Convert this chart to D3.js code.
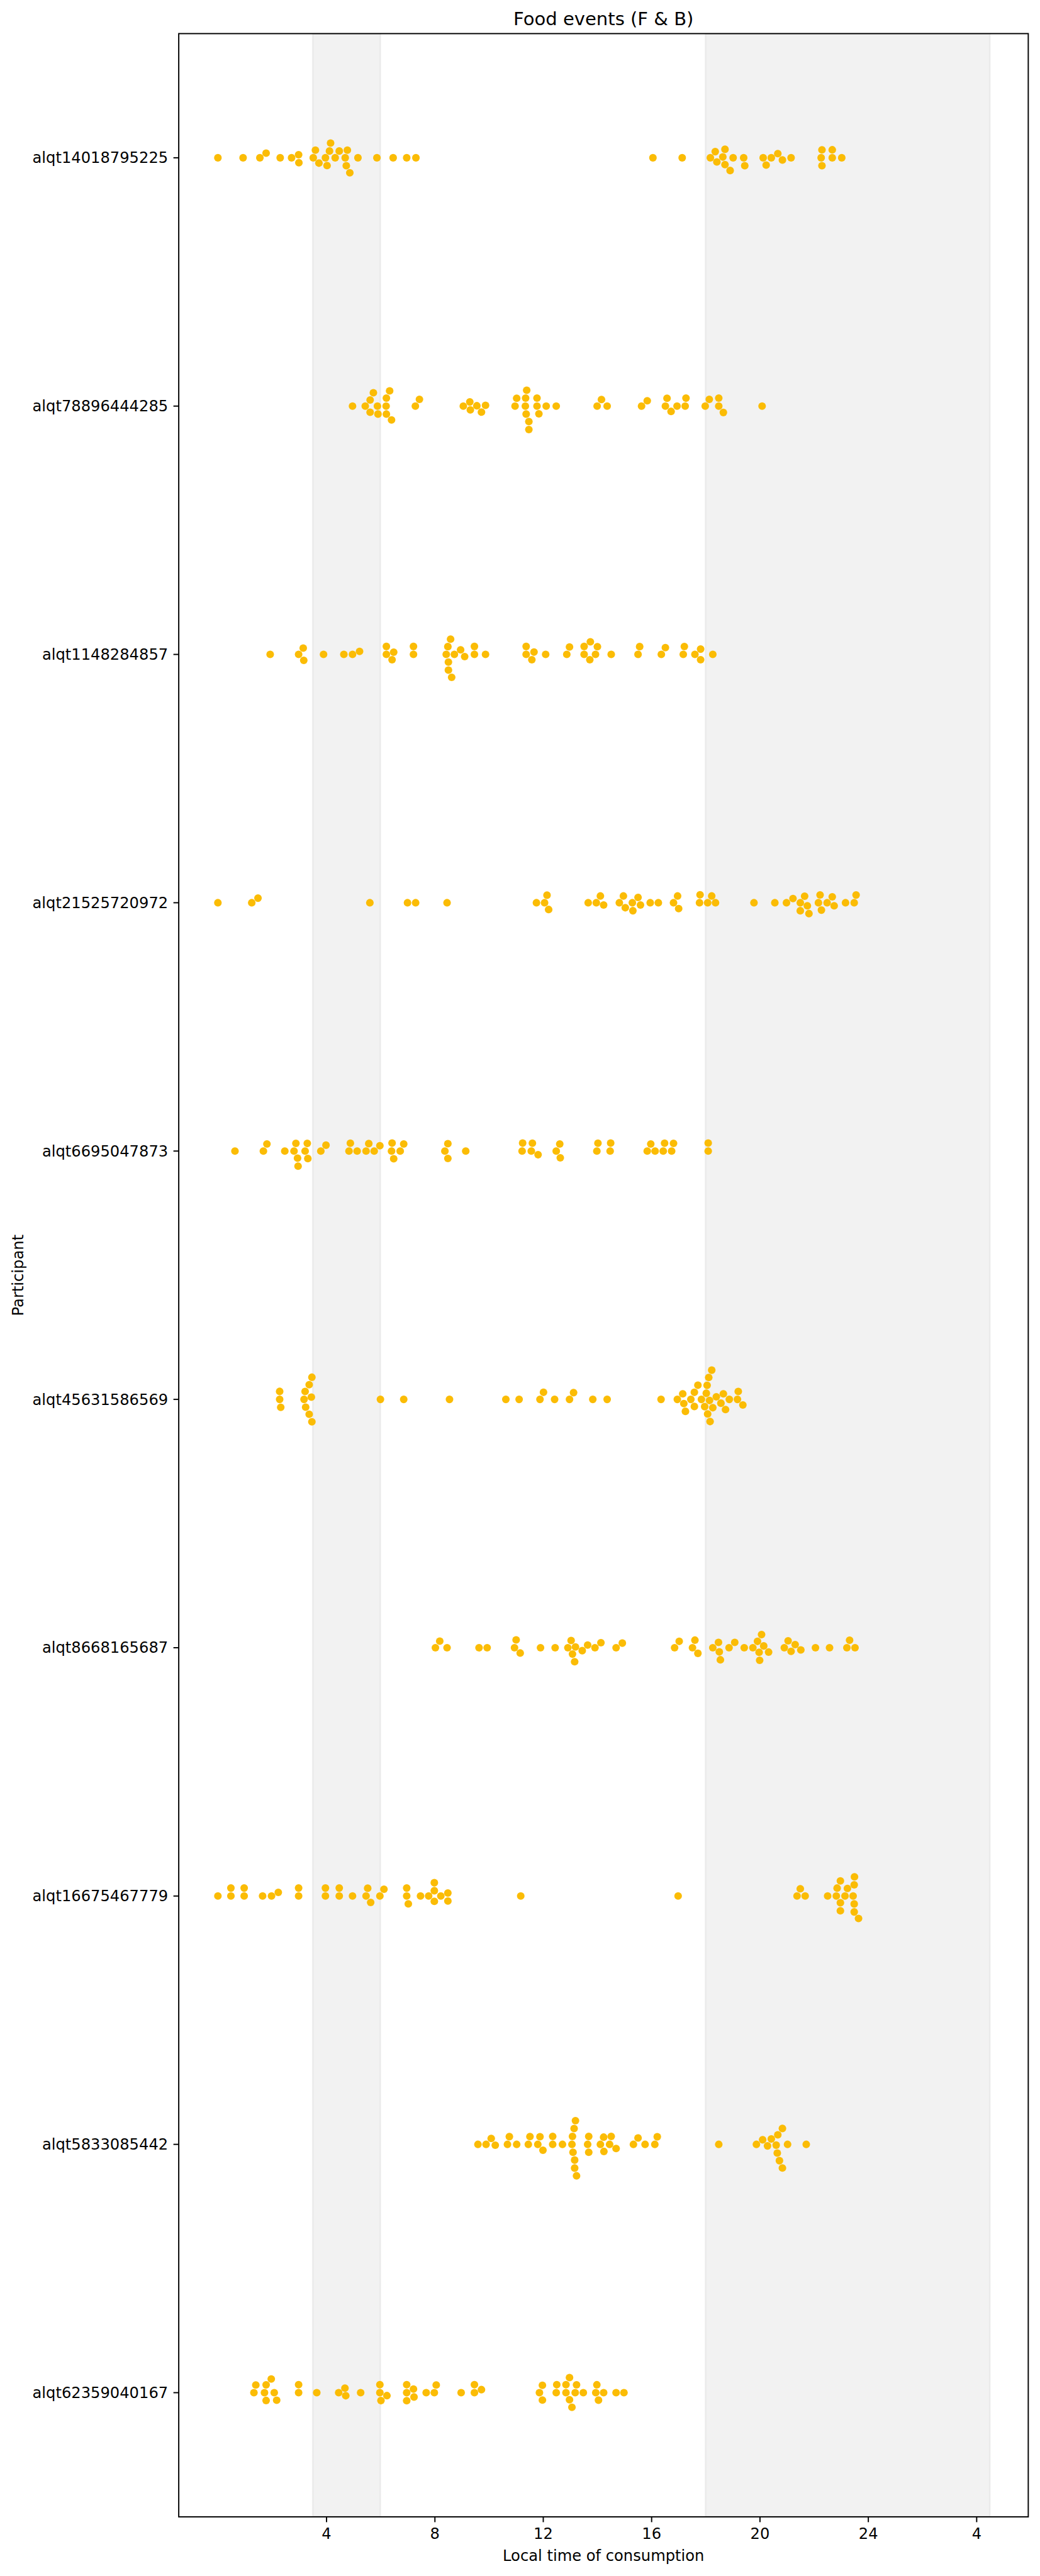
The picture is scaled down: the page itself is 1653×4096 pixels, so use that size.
<!DOCTYPE html>
<html>
<head>
<meta charset="utf-8">
<script src="https://cdn.jsdelivr.net/npm/d3@7"></script>
<style>
  html, body { margin: 0; padding: 0; background: #ffffff; }
  svg { display: block; }
</style>
</head>
<body>
<script>
// ---------------- DATA ----------------
const participants = [
  "alqt14018795225", "alqt78896444285", "alqt1148284857", "alqt21525720972",
  "alqt6695047873", "alqt45631586569", "alqt8668165687", "alqt16675467779",
  "alqt5833085442", "alqt62359040167"
];

// local time of consumption (hours; values past 24 wrap to next day)
const t_alqt14018795225 = [0.00, 0.93, 1.55, 1.78, 2.30, 2.72, 2.98, 2.99, 3.52, 3.60, 3.73, 3.97, 4.03, 4.12, 4.16, 4.33, 4.48, 4.70, 4.78, 4.74, 4.87, 5.17, 5.87, 6.47, 6.97, 7.31, 16.06, 17.14, 18.18, 18.36, 18.42, 18.64, 18.72, 18.72, 18.91, 19.02, 19.41, 19.45, 20.13, 20.24, 20.43, 20.67, 20.84, 21.16, 22.27, 22.30, 22.30, 22.68, 22.68, 23.03];
const t_alqt78896444285 = [4.97, 5.44, 5.62, 5.74, 5.62, 5.89, 5.91, 6.22, 6.34, 6.21, 6.22, 6.41, 7.29, 7.44, 9.06, 9.30, 9.32, 9.56, 9.73, 9.88, 10.97, 11.03, 11.35, 11.36, 11.40, 11.38, 11.48, 11.48, 11.78, 11.78, 11.85, 12.12, 12.49, 14.00, 14.16, 14.37, 15.64, 15.85, 16.52, 16.58, 16.73, 16.95, 17.25, 17.28, 17.99, 18.14, 18.49, 18.49, 18.66, 20.09];
const t_alqt1148284857 = [1.93, 2.98, 3.15, 3.17, 3.90, 4.65, 4.97, 5.23, 6.22, 6.22, 6.49, 6.43, 7.22, 7.22, 8.43, 8.49, 8.59, 8.51, 8.51, 8.63, 8.73, 8.96, 9.11, 9.47, 9.47, 9.88, 11.38, 11.38, 11.67, 11.59, 12.10, 12.88, 12.98, 13.52, 13.52, 13.75, 13.73, 13.94, 14.01, 14.52, 15.51, 15.57, 16.37, 16.52, 17.18, 17.22, 17.61, 17.82, 17.82, 18.27];
const t_alqt21525720972 = [0.00, 1.25, 1.48, 5.61, 7.00, 7.30, 8.46, 11.76, 12.15, 12.06, 12.21, 13.67, 13.97, 14.12, 14.24, 14.82, 14.97, 15.04, 15.30, 15.32, 15.51, 15.60, 15.96, 16.26, 16.82, 16.97, 17.01, 17.78, 17.80, 18.08, 18.23, 18.37, 19.79, 20.56, 20.99, 21.23, 21.50, 21.50, 21.66, 21.76, 21.82, 22.17, 22.23, 22.28, 22.49, 22.68, 22.75, 23.17, 23.49, 23.56];
const t_alqt6695047873 = [0.63, 1.68, 1.81, 2.47, 2.81, 2.88, 2.94, 2.96, 3.22, 3.30, 3.32, 3.80, 3.99, 4.84, 4.89, 5.14, 5.47, 5.57, 5.77, 5.98, 6.41, 6.43, 6.49, 6.73, 6.86, 8.38, 8.49, 8.49, 9.15, 11.23, 11.25, 11.57, 11.61, 11.82, 12.49, 12.62, 12.64, 13.99, 14.03, 14.48, 14.50, 15.85, 15.98, 16.14, 16.44, 16.49, 16.75, 16.82, 18.10, 18.10];
const t_alqt45631586569 = [2.28, 2.28, 2.32, 3.18, 3.22, 3.45, 3.24, 3.37, 3.47, 3.37, 3.47, 6.00, 6.86, 8.55, 10.63, 11.12, 11.89, 12.02, 12.43, 12.98, 13.13, 13.84, 14.37, 16.36, 16.96, 17.16, 17.20, 17.26, 17.46, 17.59, 17.59, 17.72, 17.85, 18.03, 18.06, 18.12, 18.23, 18.15, 17.97, 18.08, 18.17, 18.27, 18.40, 18.57, 18.66, 18.74, 18.88, 19.18, 19.21, 19.38];
const t_alqt8668165687 = [8.03, 8.19, 8.46, 9.64, 9.94, 10.95, 11.01, 11.16, 11.91, 12.45, 12.92, 13.04, 13.20, 13.09, 13.17, 13.45, 13.65, 13.92, 14.14, 14.70, 14.93, 16.86, 17.03, 17.52, 17.61, 17.72, 18.27, 18.48, 18.51, 18.55, 18.87, 19.08, 19.43, 19.75, 19.92, 20.07, 19.98, 20.00, 20.15, 20.33, 20.91, 21.05, 21.16, 21.31, 21.52, 22.06, 22.58, 23.22, 23.32, 23.52];
const t_alqt16675467779 = [0.00, 0.48, 0.48, 0.97, 0.97, 1.65, 1.98, 2.23, 2.98, 2.98, 3.97, 3.97, 4.48, 4.48, 4.97, 5.47, 5.53, 5.64, 5.98, 6.13, 6.97, 6.97, 7.03, 7.48, 7.78, 7.99, 7.99, 8.23, 7.99, 8.49, 8.49, 11.18, 16.99, 21.38, 21.50, 21.68, 22.51, 22.83, 22.86, 22.98, 22.98, 22.98, 23.15, 23.24, 23.49, 23.50, 23.45, 23.49, 23.49, 23.65];
const t_alqt5833085442 = [9.60, 9.90, 10.09, 10.24, 10.69, 10.76, 11.03, 11.46, 11.52, 11.81, 11.89, 12.00, 12.36, 12.36, 12.72, 13.07, 13.09, 13.15, 13.20, 13.11, 13.17, 13.17, 13.24, 13.65, 13.69, 13.69, 14.12, 14.24, 14.25, 14.46, 14.52, 14.70, 15.34, 15.51, 15.77, 16.13, 16.22, 18.49, 19.88, 20.11, 20.29, 20.43, 20.61, 20.67, 20.65, 20.73, 20.84, 20.84, 21.03, 21.72];
const t_alqt62359040167 = [1.33, 1.40, 1.72, 1.78, 1.97, 1.78, 2.08, 2.17, 2.98, 2.98, 3.65, 4.46, 4.69, 4.72, 5.27, 5.98, 5.98, 6.02, 6.24, 6.97, 6.97, 6.97, 7.22, 7.24, 7.69, 7.99, 8.06, 8.98, 9.47, 9.47, 9.73, 11.87, 11.98, 11.98, 12.49, 12.51, 12.85, 12.85, 12.98, 12.98, 13.07, 13.19, 13.24, 13.49, 13.95, 13.99, 14.05, 14.24, 14.70, 14.99];

const tickValues = [4, 8, 12, 16, 20, 24, 28];
const tickLabels = ["4", "8", "12", "16", "20", "24", "4"];
const shadedSpans = [[3.5, 6], [18, 28.5]];
const titleText = "Food events (F & B)";
const xLabelText = "Local time of consumption";
const yLabelText = "Participant";

const eventsByParticipant = [
  t_alqt14018795225, t_alqt78896444285, t_alqt1148284857, t_alqt21525720972,
  t_alqt6695047873, t_alqt45631586569, t_alqt8668165687, t_alqt16675467779,
  t_alqt5833085442, t_alqt62359040167
];

// ---------------- LAYOUT ----------------
const S = 0.581;                 // reference -> window scale
const W = 1653, H = 4096;
const PX = 300 / 72 * S;         // one typographic point in output px
const margin = { left: 489 * S, right: 2813 * S, top: 92 * S, bottom: 6888 * S };
const fontFamily = "'DejaVu Sans', 'Liberation Sans', sans-serif";
const tickFont = 10 * PX;
const titleFont = 12 * PX;
const lw = 0.8 * PX;
const tickLen = 3.5 * PX;
const dotR = Math.sqrt(25) / 2 * PX;   // seaborn swarm default size 5pt
const dotColor = "#fbbc05";

const svg = d3.select("body").append("svg")
  .attr("width", W).attr("height", H)
  .attr("viewBox", `0 0 ${W} ${H}`);

svg.append("rect").attr("width", W).attr("height", H).attr("fill", "#ffffff");

const x = d3.scaleLinear().domain([-1.445, 29.916]).range([margin.left, margin.right]);
const y = d3.scaleBand().domain(participants).range([margin.top, margin.bottom]).padding(0);
const cy = p => y(p) + y.bandwidth() / 2;

svg.append("clipPath").attr("id", "axclip")
  .append("rect")
  .attr("x", margin.left).attr("y", margin.top)
  .attr("width", margin.right - margin.left)
  .attr("height", margin.bottom - margin.top);

const plot = svg.append("g").attr("clip-path", "url(#axclip)");

// shaded spans (axvspan grey, alpha .1, with edge)
plot.selectAll("rect.span").data(shadedSpans).join("rect")
  .attr("class", "span")
  .attr("x", d => x(d[0]))
  .attr("width", d => x(d[1]) - x(d[0]))
  .attr("y", margin.top)
  .attr("height", margin.bottom - margin.top)
  .attr("fill", "rgba(128,128,128,0.1)")
  .attr("stroke", "rgba(128,128,128,0.1)")
  .attr("stroke-width", 1 * PX);

// ---------------- BEESWARM (seaborn-style) ----------------
function beeswarm(values, mid, r) {
  const pts = values.map((v, i) => ({ i, v, px: x(v) }));
  const sorted = pts.slice().sort((a, b) => a.px - b.px);
  const swarm = [];
  const sep2 = 4 * r * r;
  for (const p of sorted) {
    const nb = [];
    for (let k = swarm.length - 1; k >= 0; k--) {
      if (p.px - swarm[k].px < 2 * r) nb.push(swarm[k]); else break;
    }
    nb.reverse();
    if (nb.length === 0) { swarm.push({ ...p, py: mid }); continue; }
    const cands = [mid];
    let leftFirst = true;
    for (const q of nb) {
      const dx = p.px - q.px;
      const d = Math.sqrt(Math.max(sep2 - dx * dx, 0)) * 1.05;
      const cl = q.py - d, cr = q.py + d;
      if (leftFirst) cands.push(cl, cr); else cands.push(cr, cl);
      leftFirst = !leftFirst;
    }
    const order = cands.map((c, idx) => ({ c, idx, off: Math.abs(c - mid) }))
      .sort((a, b) => (a.off - b.off) || (a.idx - b.idx));
    let chosen = order[order.length - 1].c;
    for (const o of order) {
      const ok = nb.every(q => (q.px - p.px) ** 2 + (q.py - o.c) ** 2 >= sep2 - 1e-9);
      if (ok) { chosen = o.c; break; }
    }
    swarm.push({ ...p, py: chosen });
  }
  return swarm;
}

participants.forEach((p, k) => {
  const sw = beeswarm(eventsByParticipant[k], cy(p), dotR);
  plot.append("g").selectAll("circle").data(sw).join("circle")
    .attr("cx", d => d.px)
    .attr("cy", d => d.py)
    .attr("r", dotR)
    .attr("fill", dotColor);
});

// ---------------- AXES ----------------
const xAxis = d3.axisBottom(x)
  .tickValues(tickValues)
  .tickFormat((d, i) => tickLabels[i])
  .tickSize(tickLen)
  .tickPadding(3.5 * PX);

const gx = svg.append("g")
  .attr("transform", `translate(0,${margin.bottom})`)
  .call(xAxis);
gx.select(".domain").remove();
gx.selectAll(".tick line").attr("stroke", "#000").attr("stroke-width", lw);
gx.selectAll(".tick text")
  .attr("font-family", fontFamily)
  .attr("font-size", tickFont)
  .attr("fill", "#000")
  .attr("dy", null)
  .attr("y", tickLen + 3.5 * PX + 0.729 * tickFont);

const yAxis = d3.axisLeft(y).tickSize(tickLen).tickPadding(3.5 * PX);
const gy = svg.append("g")
  .attr("transform", `translate(${margin.left},0)`)
  .call(yAxis);
gy.select(".domain").remove();
gy.selectAll(".tick line").attr("stroke", "#000").attr("stroke-width", lw);
gy.selectAll(".tick text")
  .attr("font-family", fontFamily)
  .attr("font-size", tickFont)
  .attr("fill", "#000")
  .attr("dy", null)
  .attr("y", 0.35 * tickFont);

// spines
svg.append("rect")
  .attr("x", margin.left).attr("y", margin.top)
  .attr("width", margin.right - margin.left)
  .attr("height", margin.bottom - margin.top)
  .attr("fill", "none")
  .attr("stroke", "#000")
  .attr("stroke-width", lw);

// title
svg.append("text")
  .attr("x", (margin.left + margin.right) / 2)
  .attr("y", 69 * S)
  .attr("text-anchor", "middle")
  .attr("font-family", fontFamily)
  .attr("font-size", titleFont)
  .attr("fill", "#000")
  .text(titleText);

// x label
svg.append("text")
  .attr("x", (margin.left + margin.right) / 2)
  .attr("y", 7008 * S)
  .attr("text-anchor", "middle")
  .attr("font-family", fontFamily)
  .attr("font-size", tickFont)
  .attr("fill", "#000")
  .text(xLabelText);

// y label
const ylx = 63 * S, yly = (margin.top + margin.bottom) / 2;
svg.append("text")
  .attr("transform", `translate(${ylx},${yly}) rotate(-90)`)
  .attr("text-anchor", "middle")
  .attr("font-family", fontFamily)
  .attr("font-size", tickFont)
  .attr("fill", "#000")
  .text(yLabelText);
</script>
</body>
</html>
